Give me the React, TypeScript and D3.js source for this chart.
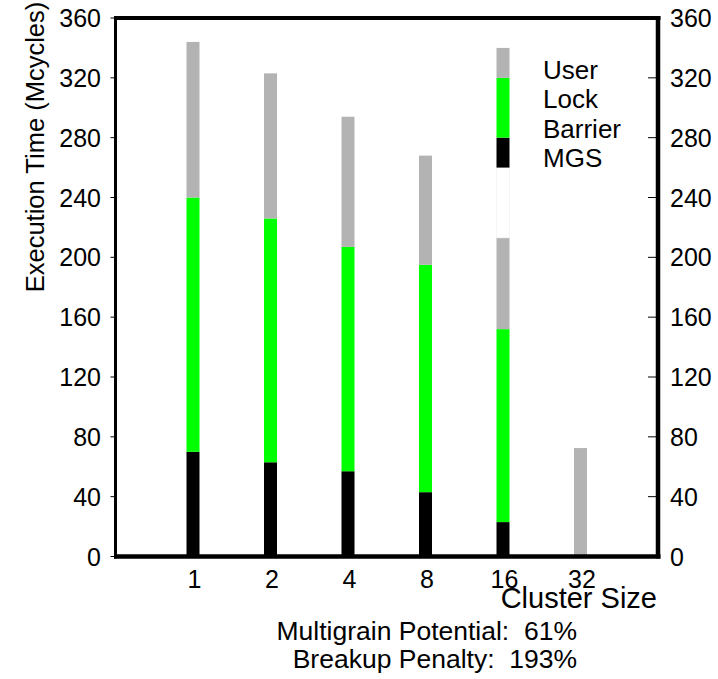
import React from "react";
import * as d3 from "d3";

const categories = ["1", "2", "4", "8", "16", "32"];
const mgs = [70, 63, 57, 43, 23, 0];
const barrier = [0, 0, 0, 0, 0, 0];
const lock = [170, 163, 150, 152, 129, 0];
const user = [104, 97, 87, 73, 61, 72.5];
const yTicks = [0, 40, 80, 120, 160, 200, 240, 280, 320, 360];
const legendNames = ["User", "Lock", "Barrier", "MGS"];
// legend swatch column stacked above the "16" bar, bottom to top (data units)
const legendSwatchHeights = [47, 20, 40, 20];
const legendSwatchColors = ["#ffffff", "#000000", "#00ff00", "#b3b3b3"];
const notes = ["Multigrain Potential:  61%", "Breakup Penalty:  193%"];

const seriesKeys = ["mgs", "barrier", "lock", "user"];
const seriesColors: Record<string, string> = {
  mgs: "#000000",
  barrier: "#ffffff",
  lock: "#00ff00",
  user: "#b3b3b3",
};

export default function App() {
  const W = 718, H = 679;
  const left = 115.5, right = 658, top = 18, bottom = 556.5;
  const font = "'Liberation Sans', Arial, Helvetica, sans-serif";

  const x = d3.scaleLinear().domain([0, 7]).range([left, right]);
  const y = d3.scaleLinear().domain([0, 360]).range([bottom, top]);
  const barW = 13;

  const rows = categories.map((c, i) => ({
    cat: c,
    mgs: mgs[i],
    barrier: barrier[i],
    lock: lock[i],
    user: user[i],
  }));
  const stack = d3.stack<any>().keys(seriesKeys)(rows);

  const legendIdx = 4;
  const legendBase = mgs[legendIdx] + barrier[legendIdx] + lock[legendIdx] + user[legendIdx];
  let acc = legendBase;
  const swatches = legendSwatchHeights.map((h, i) => {
    const s = { y0: acc, y1: acc + h, color: legendSwatchColors[i] };
    acc += h;
    return s;
  });

  return (
    <svg width={W} height={H} style={{ position: "absolute", left: 0, top: 0 }} fontFamily={font}>
      <rect x={0} y={0} width={W} height={H} fill="#fff" />
      {stack.map((layer) =>
        layer.map((d, i) =>
          d[1] - d[0] > 0 ? (
            <rect
              key={layer.key + i}
              x={x(i + 1) - barW / 2}
              y={y(d[1])}
              width={barW}
              height={y(d[0]) - y(d[1])}
              fill={seriesColors[layer.key as string]}
            />
          ) : null
        )
      )}
      {swatches.map((s, i) => (
        <rect
          key={"sw" + i}
          x={x(legendIdx + 1) - barW / 2}
          y={y(s.y1)}
          width={barW}
          height={y(s.y0) - y(s.y1)}
          fill={s.color}
          stroke={s.color === "#ffffff" ? "#eeeeee" : "none"}
          strokeWidth={0.6}
        />
      ))}
      {legendNames.map((n, i) => (
        <text key={n} x={543} y={79 + i * 29.4} fontSize={26} fill="#000">
          {n}
        </text>
      ))}
      {/* ticks */}
      {yTicks.map((t) => (
        <g key={"t" + t}>
          <line x1={left - 5} x2={left} y1={y(t)} y2={y(t)} stroke="#000" strokeWidth={1} />
          <line x1={right - 10} x2={right} y1={y(t)} y2={y(t)} stroke="#000" strokeWidth={1} />
          <text x={101} y={y(t)} dy="0.36em" textAnchor="end" fontSize={25}>
            {t}
          </text>
          <text x={670} y={y(t)} dy="0.36em" textAnchor="start" fontSize={25}>
            {t}
          </text>
        </g>
      ))}
      {/* frame */}
      <line x1={left} x2={left} y1={top - 1.5} y2={bottom + 2} stroke="#000" strokeWidth={3} />
      <line x1={left - 1.5} x2={right + 2.5} y1={top} y2={top} stroke="#000" strokeWidth={4} />
      <line x1={left - 1.5} x2={right + 2.5} y1={bottom} y2={bottom} stroke="#000" strokeWidth={4.5} />
      <line x1={right} x2={right} y1={top - 2} y2={bottom + 2} stroke="#000" strokeWidth={4.5} />
      {categories.map((c, i) => (
        <text key={"x" + c} x={x(i + 1) + 1.5} y={588} textAnchor="middle" fontSize={25}>
          {c}
        </text>
      ))}
      <text x={657} y={608} textAnchor="end" fontSize={29}>
        Cluster Size
      </text>
      <text transform="translate(44,147) rotate(-90)" textAnchor="middle" fontSize={25.5}>
        Execution Time (Mcycles)
      </text>
      {notes.map((n, i) => (
        <text key={n} x={577} y={640 + i * 28.3} textAnchor="end" fontSize={26.5} style={{ whiteSpace: "pre" }}>
          {n}
        </text>
      ))}
    </svg>
  );
}
